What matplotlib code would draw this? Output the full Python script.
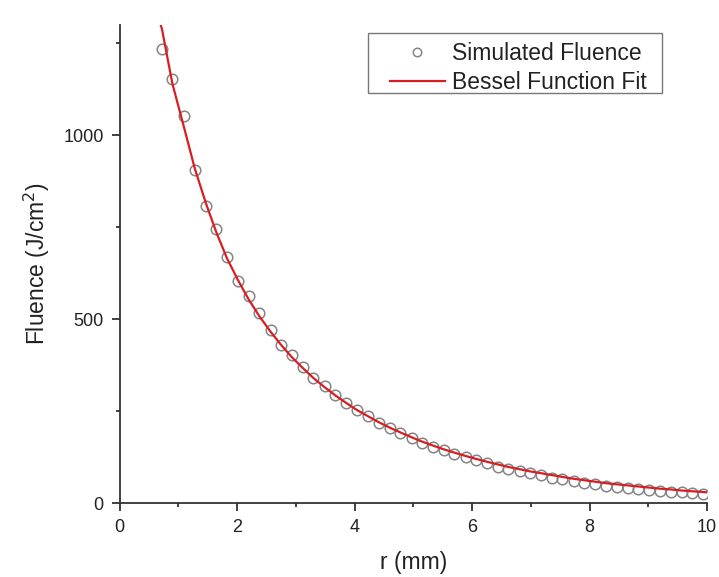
import matplotlib.pyplot as plt
from matplotlib.ticker import MultipleLocator
from matplotlib.patches import Rectangle

plt.rcParams['font.family'] = ['Liberation Sans', 'DejaVu Sans']

# simulated fluence (markers)
r_sim = [0.72, 0.90, 1.10, 1.28, 1.47, 1.65, 1.83, 2.02, 2.20, 2.38,
         2.57, 2.75, 2.93, 3.12, 3.30, 3.49, 3.67, 3.86, 4.04, 4.23,
         4.41, 4.60, 4.78, 4.97, 5.15, 5.34, 5.52, 5.70, 5.89, 6.07,
         6.26, 6.44, 6.62, 6.81, 6.99, 7.18, 7.36, 7.54, 7.73, 7.91,
         8.10, 8.28, 8.46, 8.65, 8.83, 9.02, 9.20, 9.38, 9.57, 9.75, 9.93]
fluence_sim = [1236, 1153, 1053, 905, 809, 744, 670, 603, 564, 518,
               471, 430, 403, 371, 340, 319, 294, 273, 253, 237,
               218, 205, 190, 178, 164, 153, 144, 133, 124, 117,
               110, 98, 92, 87, 83, 75, 69, 65, 60, 55,
               52, 47, 44, 41, 38, 35, 33, 31, 29, 26, 24]

# bessel function fit (line)
r_fit = [0.70, 0.72, 0.90, 1.10, 1.28, 1.47, 1.65, 1.83, 2.02, 2.20,
         2.38, 2.57, 2.75, 2.93, 3.12, 3.30, 3.49, 3.67, 3.86, 4.04,
         4.23, 4.41, 4.60, 4.78, 4.97, 5.15, 5.34, 5.52, 5.70, 5.89,
         6.07, 6.26, 6.44, 6.62, 6.81, 6.99, 7.18, 7.36, 7.54, 7.73,
         7.91, 8.10, 8.28, 8.46, 8.65, 8.83, 9.02, 9.20, 9.38, 9.57,
         9.75, 9.93, 10.0]
fluence_fit = [1300, 1290, 1140, 1020, 910, 815, 735, 665, 605, 553,
               508, 466, 430, 397, 367, 340, 315, 293, 272, 253,
               236, 220, 205, 192, 179, 167, 156, 146, 137, 128,
               120, 112, 105, 98, 92, 86, 81, 76, 71, 66,
               62, 58, 54, 51, 48, 45, 42, 39, 37, 34,
               32, 30, 29]

W, H = 719, 577
fig = plt.figure(figsize=(W / 100, H / 100), dpi=100)
ax = fig.add_axes([0.1663, 0.1282, 0.8170, 0.8285])

ax.plot(r_sim, fluence_sim, 'o', mfc='none', mec='#858585', ms=7.6, mew=1.1,
        label='Simulated Fluence', zorder=2)
ax.plot(r_fit, fluence_fit, '-', color='#d81e22', lw=1.6,
        label='Bessel Function Fit', zorder=3)

ax.set_xlim(0, 10)
ax.set_ylim(0, 1300)
ax.xaxis.set_major_locator(MultipleLocator(2))
ax.xaxis.set_minor_locator(MultipleLocator(1))
ax.yaxis.set_major_locator(MultipleLocator(500))
ax.yaxis.set_minor_locator(MultipleLocator(250))

for s in ['top', 'right']:
    ax.spines[s].set_visible(False)
for s in ['left', 'bottom']:
    ax.spines[s].set_color('#333333')
    ax.spines[s].set_linewidth(1.3)

ax.tick_params(which='major', length=6, width=1.3, color='#333333',
               labelsize=13, labelcolor='#222222', pad=5.5)
ax.tick_params(which='minor', length=3, width=1.3, color='#333333')

ax.set_xlabel('r (mm)', fontsize=16.5, color='#222222', labelpad=11)
ax.set_ylabel('Fluence (J/cm$^2$)', fontsize=16.5, color='#222222', labelpad=8)

# legend without its own frame, box drawn where the reference has it
leg = ax.legend(loc='upper left', bbox_to_anchor=(383 / W, 1 - 35 / H),
                bbox_transform=fig.transFigure, borderaxespad=0,
                fontsize=16.5, frameon=False, handlelength=2.4,
                handletextpad=0.3, labelspacing=0.25, borderpad=0.3,
                markerscale=0.8)
for t in leg.get_texts():
    t.set_color('#222222')
fig.add_artist(Rectangle((368 / W, 1 - 93 / H), (662 - 368) / W, 60 / H,
                         transform=fig.transFigure, fill=False,
                         edgecolor='#777777', linewidth=1.0))

fig.savefig('out.png', dpi=100)
